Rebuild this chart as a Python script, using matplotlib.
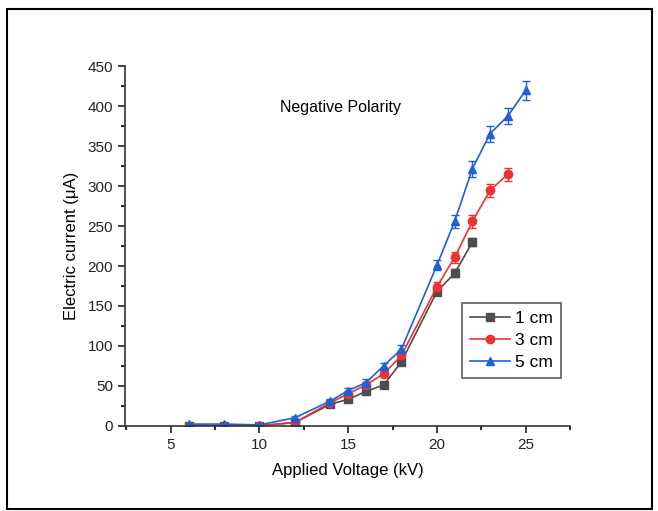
import matplotlib
matplotlib.use("Agg")
import matplotlib.pyplot as plt
from matplotlib.patches import Rectangle
from matplotlib.lines import Line2D
from matplotlib.ticker import MultipleLocator

plt.rcParams['font.family'] = ['Liberation Sans', 'DejaVu Sans']

# data
v1 = [6, 8, 10, 12, 14, 15, 16, 17, 18, 20, 21, 22]
i1 = [0, 0, 0, 4, 27, 33, 43, 51, 80, 168, 191, 230]
e1 = [1, 1, 1, 2, 3, 3, 3, 3, 4, 4, 5, 5]

v3 = [6, 8, 10, 12, 14, 15, 16, 17, 18, 20, 21, 22, 23, 24]
i3 = [0, 0, 0, 4, 29, 40, 51, 65, 88, 174, 211, 256, 295, 315]
e3 = [1, 1, 1, 2, 3, 3, 4, 4, 5, 6, 7, 8, 8, 8]

v5 = [6, 8, 10, 12, 14, 15, 16, 17, 18, 20, 21, 22, 23, 24, 25]
i5 = [2, 2, 1, 10, 31, 44, 54, 75, 96, 201, 256, 322, 366, 388, 420]
e5 = [1, 1, 1, 2, 3, 3, 4, 4, 5, 6, 8, 10, 10, 10, 12]

labels = ['1 cm', '3 cm', '5 cm']
colors = ['#4d4d4d', '#ec3232', '#1f5fd8']

fig = plt.figure(figsize=(6.58, 5.11), dpi=100)
ax = fig.add_axes([125/658, 1-425.7/511, 445/658, (425.7-66.5)/511])

series = [(v1, i1, e1, 's'), (v3, i3, e3, 'o'), (v5, i5, e5, '^')]
handles = []
for (x, y, e, m), lab, c in zip(series, labels, colors):
    ax.errorbar(x, y, yerr=e, color=c, marker=m, markersize=6, lw=1.2,
                elinewidth=1, capsize=3, capthick=1)
    handles.append(Line2D([], [], color=c, marker=m, markersize=6, lw=1.2, label=lab))

ax.set_xlim(2.42, 27.5)
ax.set_ylim(0, 450)
ax.xaxis.set_major_locator(MultipleLocator(5))
ax.xaxis.set_minor_locator(MultipleLocator(2.5))
ax.yaxis.set_major_locator(MultipleLocator(50))
ax.yaxis.set_minor_locator(MultipleLocator(25))
ax.tick_params(which='major', direction='out', length=5, width=1.2, labelsize=11, colors='#222222')
ax.tick_params(which='minor', direction='out', length=3, width=1.2)
for s in ['top', 'right']:
    ax.spines[s].set_visible(False)
for s in ['left', 'bottom']:
    ax.spines[s].set_linewidth(1.2)
    ax.spines[s].set_color('#333333')

ax.set_xlabel('Applied Voltage (kV)', fontsize=12, labelpad=8)
ax.set_ylabel('Electric current (\u03bcA)', fontsize=12, labelpad=6)
fig.text(340/658, 1-107/511, 'Negative Polarity', fontsize=11.5, ha='center', va='center')

leg = ax.legend(handles=handles, loc='upper left',
                bbox_to_anchor=((462-125)/445, (425.7-303)/359.2),
                frameon=True, fancybox=False, edgecolor='#333333', fontsize=12.5,
                handlelength=2.3, borderpad=0.45, labelspacing=0.4, handletextpad=0.3,
                borderaxespad=0)
leg.get_frame().set_linewidth(1.2)

fig.patches.append(Rectangle((7/658, 1-509/511), 645/658, 500/511, transform=fig.transFigure,
                             fill=False, edgecolor='black', lw=1.5))

fig.savefig('out.png', dpi=100)
